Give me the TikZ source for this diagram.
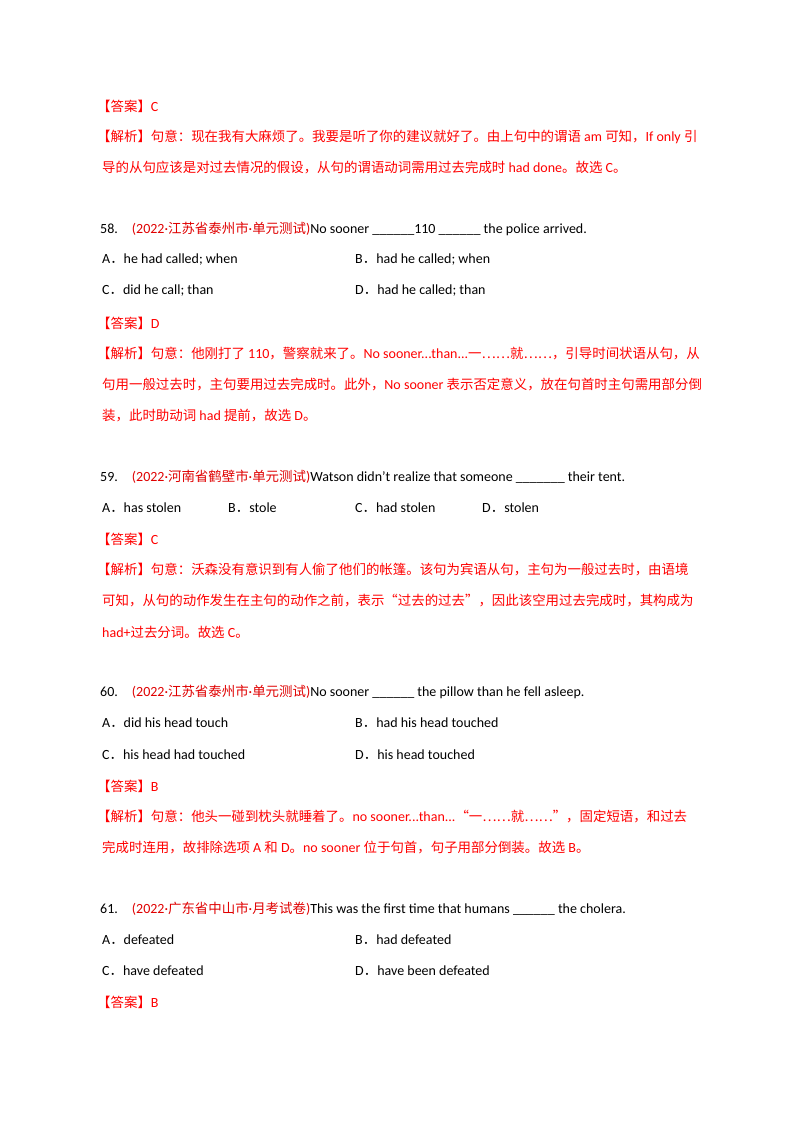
\documentclass[tikz,border=0pt]{standalone}
\usepackage{fontspec}
\setmainfont{Carlito}
\newfontfamily\cjk{Noto Sans CJK SC}[Scale=0.96]
\XeTeXinterchartokenstate=1
\newXeTeXintercharclass\cjkclass
\newcount\cc
\def\setrange#1#2{\cc=#1\relax\loop\XeTeXcharclass\cc=\cjkclass\ifnum\cc<#2\advance\cc by1\repeat}
\setrange{"3000}{"303F}
\setrange{"4E00}{"9FFF}
\setrange{"FF00}{"FFEF}
\XeTeXcharclass"201C=\cjkclass
\XeTeXcharclass"201D=\cjkclass
\XeTeXcharclass"2026=\cjkclass
\XeTeXinterchartoks 0 \cjkclass = {\cjk}
\XeTeXinterchartoks 4095 \cjkclass = {\cjk}
\XeTeXinterchartoks \cjkclass 0 = {\rmfamily}
\XeTeXinterchartoks \cjkclass 4095 = {\rmfamily}
\definecolor{ared}{HTML}{FF0000}
\definecolor{sred}{HTML}{E00000}
\tikzset{t/.style={anchor=west,inner sep=0pt,font=\fontsize{14}{16}\selectfont}}
\newcommand{\ans}{{\color{ared}【答案】}}
\newcommand{\src}[1]{{\color{sred}(2022·#1)}}
\begin{document}
\begin{tikzpicture}[x=1pt,y=-1pt]
\useasboundingbox[fill=white] (0,0) rectangle (800,1132);
\node[t] (a1) at (97,106) {\ans\color{ared}C};
\node[t,text=ared] (a2) at (97,137) {【解析】句意：现在我有大麻烦了。我要是听了你的建议就好了。由上句中的谓语 am 可知，If only 引};
\node[t,text=ared] (a3) at (102,168) {导的从句应该是对过去情况的假设，从句的谓语动词需用过去完成时 had done。故选 C。};

\node[t] (q58) at (100,229) {58.\quad\src{江苏省泰州市·单元测试}No sooner \_\_\_\_\_\_110 \_\_\_\_\_\_ the police arrived.};
\node[t] (o58a) at (102,260) {A．he had called; when};
\node[t] (o58b) at (355,260) {B．had he called; when};
\node[t] (o58c) at (102,291) {C．did he call; than};
\node[t] (o58d) at (355,291) {D．had he called; than};
\node[t] (a58) at (97,323) {\ans\color{ared}D};
\node[t,text=ared] (j58a) at (97,354) {【解析】句意：他刚打了 110，警察就来了。No sooner...than...一……就……，引导时间状语从句，从};
\node[t,text=ared] (j58b) at (102,385) {句用一般过去时，主句要用过去完成时。此外，No sooner 表示否定意义，放在句首时主句需用部分倒};
\node[t,text=ared] (j58c) at (102,416) {装，此时助动词 had 提前，故选 D。};

\node[t] (q59) at (100,477) {59.\quad\src{河南省鹤壁市·单元测试}Watson didn’t realize that someone \_\_\_\_\_\_\_ their tent.};
\node[t] (o59a) at (102,508) {A．has stolen};
\node[t] (o59b) at (228,508) {B．stole};
\node[t] (o59c) at (355,508) {C．had stolen};
\node[t] (o59d) at (482,508) {D．stolen};
\node[t] (a59) at (97,539) {\ans\color{ared}C};
\node[t,text=ared] (j59a) at (97,570) {【解析】句意：沃森没有意识到有人偷了他们的帐篷。该句为宾语从句，主句为一般过去时，由语境};
\node[t,text=ared] (j59b) at (102,601) {可知，从句的动作发生在主句的动作之前，表示“过去的过去”，因此该空用过去完成时，其构成为};
\node[t,text=ared] (j59c) at (102,632) {had+过去分词。故选 C。};

\node[t] (q60) at (100,692) {60.\quad\src{江苏省泰州市·单元测试}No sooner \_\_\_\_\_\_ the pillow than he fell asleep.};
\node[t] (o60a) at (102,723) {A．did his head touch};
\node[t] (o60b) at (355,723) {B．had his head touched};
\node[t] (o60c) at (102,755) {C．his head had touched};
\node[t] (o60d) at (355,755) {D．his head touched};
\node[t] (a60) at (97,786) {\ans\color{ared}B};
\node[t,text=ared] (j60a) at (97,817) {【解析】句意：他头一碰到枕头就睡着了。no sooner...than...“一……就……”，固定短语，和过去};
\node[t,text=ared] (j60b) at (102,848) {完成时连用，故排除选项 A 和 D。no sooner 位于句首，句子用部分倒装。故选 B。};

\node[t] (q61) at (100,909) {61.\quad\src{广东省中山市·月考试卷}This was the first time that humans \_\_\_\_\_\_ the cholera.};
\node[t] (o61a) at (102,940) {A．defeated};
\node[t] (o61b) at (355,940) {B．had defeated};
\node[t] (o61c) at (102,971) {C．have defeated};
\node[t] (o61d) at (355,971) {D．have been defeated};
\node[t] (a61) at (97,1002) {\ans\color{ared}B};
\end{tikzpicture}
\end{document}
